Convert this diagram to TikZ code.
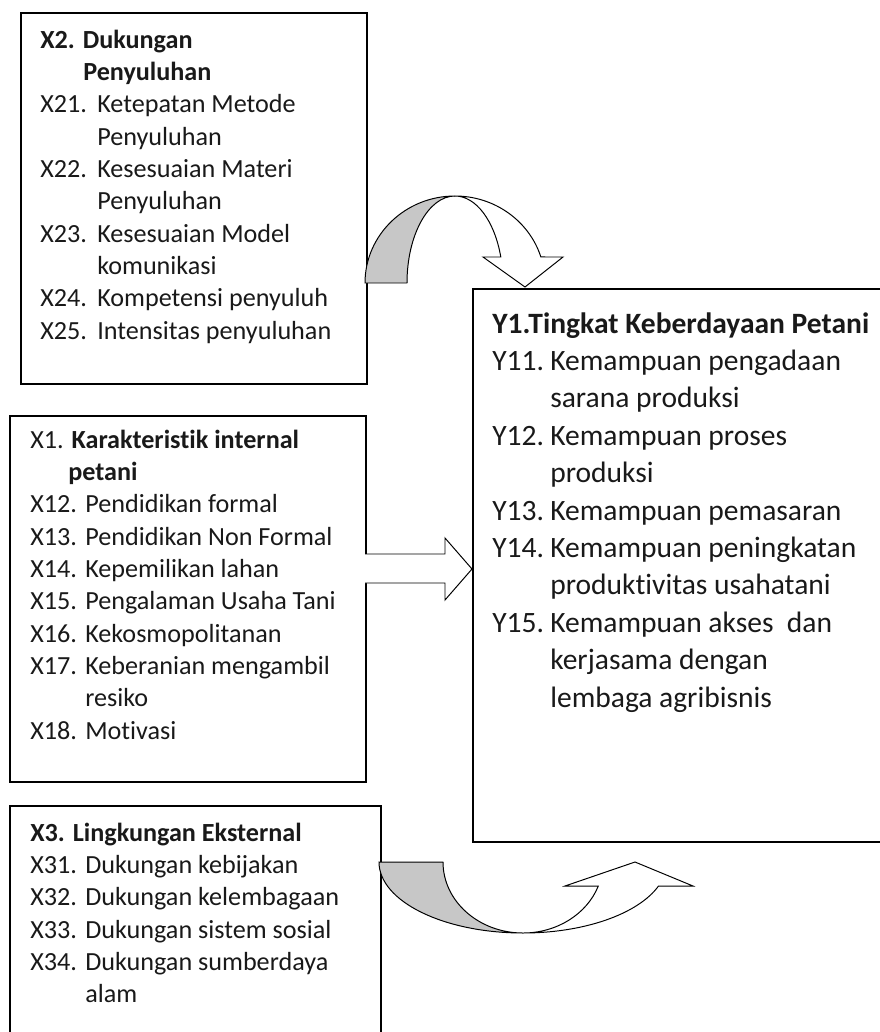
\documentclass[tikz,border=0pt]{standalone}
\usepackage{fontspec}
\setmainfont[Ligatures=NoCommon]{Carlito}
\newlength{\lblw}
\newcommand{\itm}[2]{\makebox[\lblw][l]{#1}#2}
\newcommand{\cnt}[1]{\hspace*{\lblw}#1}
\begin{document}
\begin{tikzpicture}[x=0.025cm, y=-0.025cm,
    box/.style={draw, line width=1.4pt, anchor=north west, inner sep=0pt},
    txt/.style={anchor=base west, inner sep=0pt, text=black!90},
    xtxt/.style={txt, font=\fontsize{18.6}{23}\selectfont},
    ytxt/.style={txt, font=\fontsize{21}{26.6}\selectfont},
    shade/.style={draw, line width=0.7pt, fill=black!22},
    front/.style={draw, line width=0.7pt, fill=white}]
    \useasboundingbox (0,0) rectangle (880,1032);

    % boxes
    \node[box, minimum width=8.65cm, minimum height=9.275cm] (x2box) at (20,12) {};
    \node[box, minimum width=8.9cm, minimum height=9.15cm] (x1box) at (9,415) {};
    \node[box, minimum width=10.35cm, minimum height=13.825cm] (y1box) at (472,288) {};
    \node[box, minimum width=9.275cm, minimum height=5.875cm] (x3box) at (9,805) {};

    % texts
    \node[xtxt, execute at begin node={\setlength{\lblw}{1.425cm}}] (x2txt) at (40,48) {%
        \begin{tabular}[t]{@{}l@{}}
            \textbf{X2. Dukungan}\\
            \hspace*{1.075cm}\textbf{Penyuluhan}\\
            \itm{X21.}{Ketepatan Metode}\\
            \cnt{Penyuluhan}\\
            \itm{X22.}{Kesesuaian Materi}\\
            \cnt{Penyuluhan}\\
            \itm{X23.}{Kesesuaian Model}\\
            \cnt{komunikasi}\\
            \itm{X24.}{Kompetensi penyuluh}\\
            \itm{X25.}{Intensitas penyuluhan}
        \end{tabular}};
    \node[xtxt, execute at begin node={\setlength{\lblw}{1.375cm}}] (x1txt) at (30,448) {%
        \begin{tabular}[t]{@{}l@{}}
            X1. \textbf{Karakteristik internal}\\
            \hspace*{0.95cm}\textbf{petani}\\
            \itm{X12.}{Pendidikan formal}\\
            \itm{X13.}{Pendidikan Non Formal}\\
            \itm{X14.}{Kepemilikan lahan}\\
            \itm{X15.}{Pengalaman Usaha Tani}\\
            \itm{X16.}{Kekosmopolitanan}\\
            \itm{X17.}{Keberanian mengambil}\\
            \cnt{resiko}\\
            \itm{X18.}{Motivasi}
        \end{tabular}};
    \node[xtxt, execute at begin node={\setlength{\lblw}{1.375cm}}] (x3txt) at (30,841) {%
        \begin{tabular}[t]{@{}l@{}}
            \textbf{X3. Lingkungan Eksternal}\\
            \itm{X31.}{Dukungan kebijakan}\\
            \itm{X32.}{Dukungan kelembagaan}\\
            \itm{X33.}{Dukungan sistem sosial}\\
            \itm{X34.}{Dukungan sumberdaya}\\
            \cnt{alam}
        \end{tabular}};
    \node[ytxt, execute at begin node={\setlength{\lblw}{1.45cm}}] (y1txt) at (492,333) {%
        \begin{tabular}[t]{@{}l@{}}
            \textbf{Y1.Tingkat Keberdayaan Petani}\\
            \itm{Y11.}{Kemampuan pengadaan}\\
            \cnt{sarana produksi}\\
            \itm{Y12.}{Kemampuan proses}\\
            \cnt{produksi}\\
            \itm{Y13.}{Kemampuan pemasaran}\\
            \itm{Y14.}{Kemampuan peningkatan}\\
            \cnt{produktivitas usahatani}\\
            \itm{Y15.}{Kemampuan akses~ dan}\\
            \cnt{kerjasama dengan}\\
            \cnt{lembaga agribisnis}
        \end{tabular}};

    % curved arrow X2 -> Y1
    \draw[shade] (365,283) arc[start angle=180, end angle=270, x radius=90, y radius=87]
        arc[start angle=270, end angle=180, x radius=48, y radius=87] -- cycle;
    \draw[front] (455,196) arc[start angle=270, end angle=342.6, x radius=90, y radius=87]
        -- (563,257) -- (525,287) -- (483,257) -- (500.8,257)
        arc[start angle=342.6, end angle=270, x radius=48, y radius=87] -- cycle;

    % block arrow X1 -> Y1
    \draw[front] (365,554) -- (445,554) -- (445,538) -- (472,569)
        -- (445,600) -- (445,583) -- (365,583);

    % curved arrow X3 -> Y1
    \draw[shade] (379,862) arc[start angle=180, end angle=90, x radius=144, y radius=71]
        arc[start angle=90, end angle=180, x radius=80, y radius=71] -- cycle;
    \draw[front] (523,933) arc[start angle=90, end angle=19.76, x radius=144, y radius=71]
        -- (693,886) -- (635,862) -- (565,886) -- (598.3,886)
        arc[start angle=19.76, end angle=90, x radius=80, y radius=71] -- cycle;
\end{tikzpicture}
\end{document}
